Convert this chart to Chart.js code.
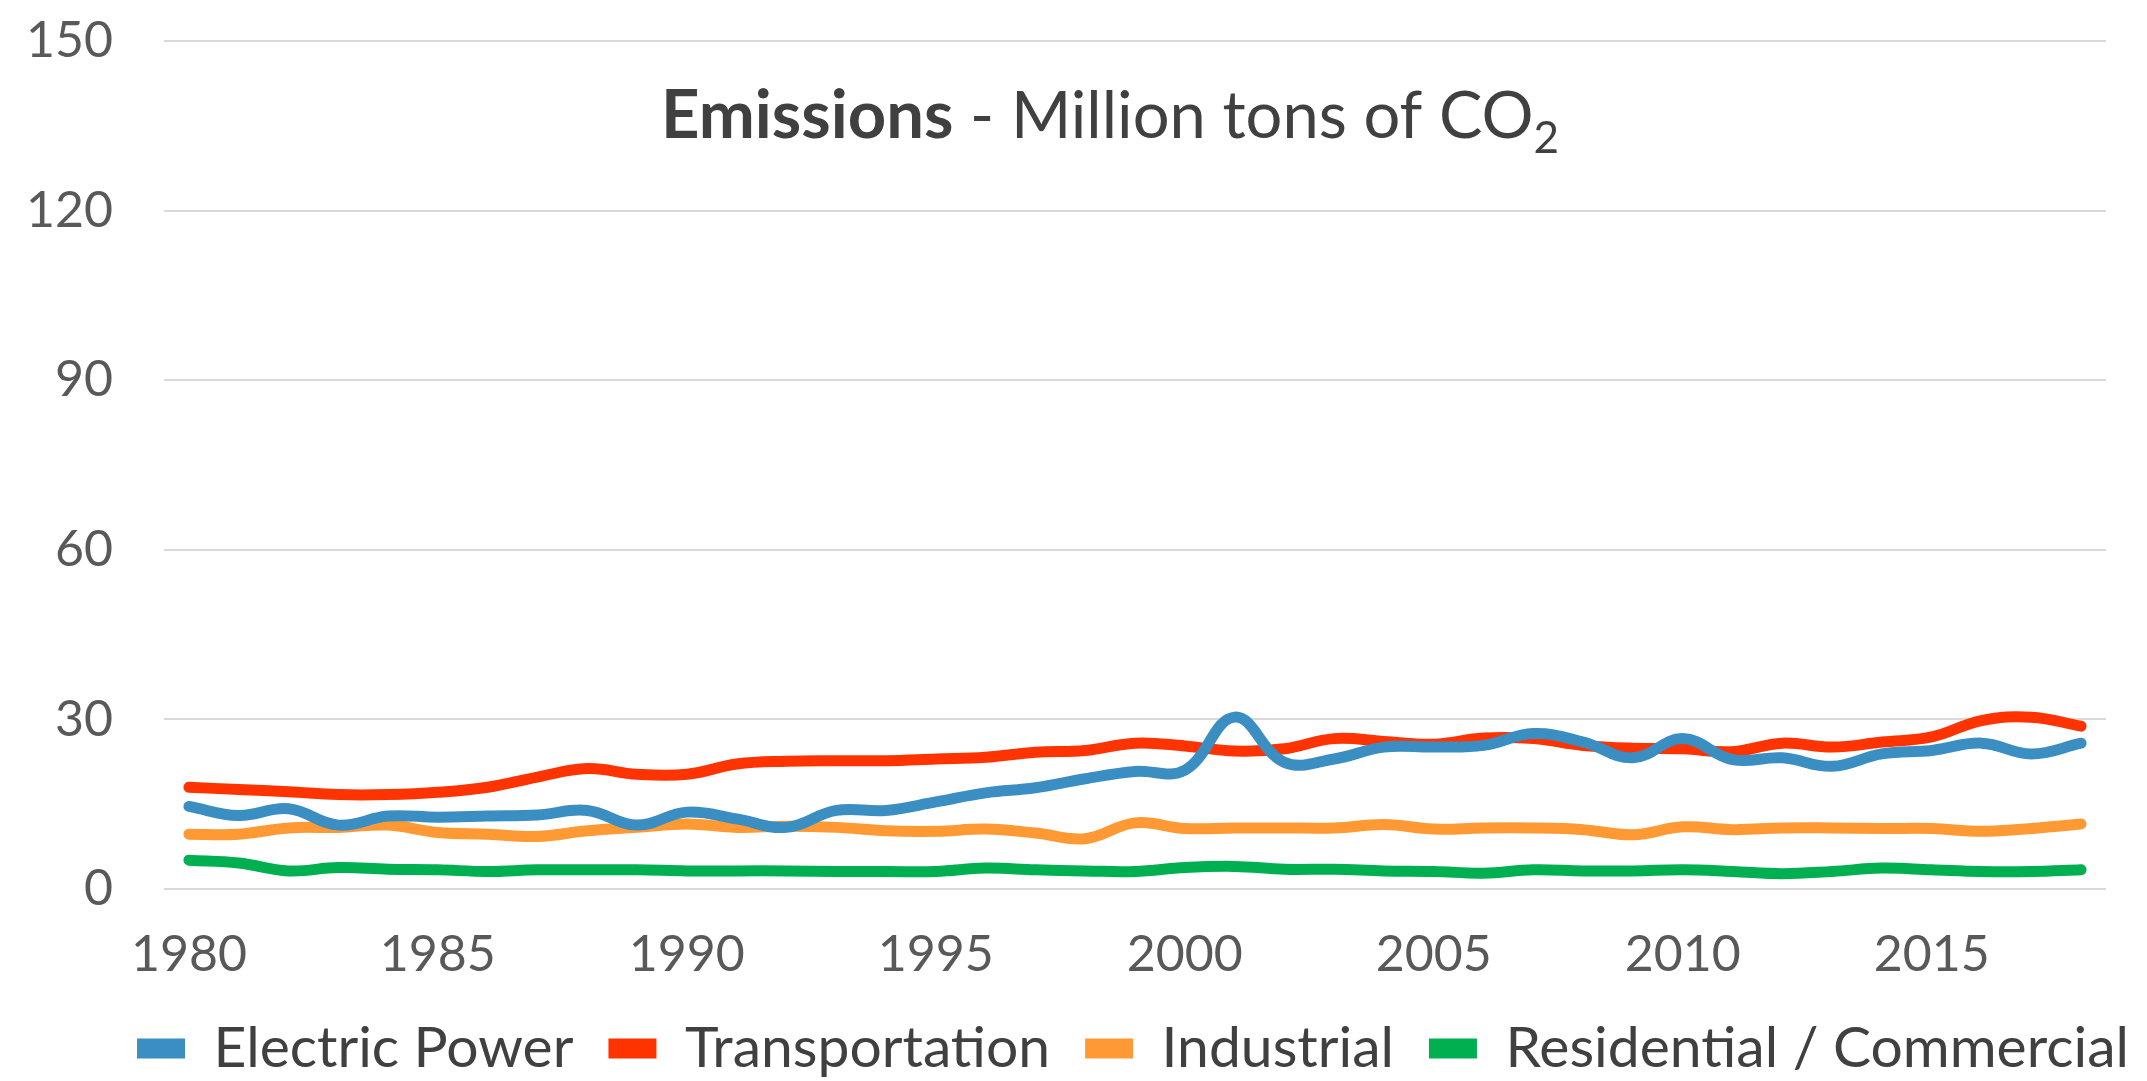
<!DOCTYPE html>
<html>
<head>
<meta charset="utf-8">
<script src="https://cdn.jsdelivr.net/npm/chart.js@4.4.1/dist/chart.umd.min.js"></script>
<style>
  html, body { margin: 0; padding: 0; background: #fff; }
  #wrap { width: 2147px; height: 1081px; }
</style>
</head>
<body>
<div id="wrap"><canvas id="emissionsChart"></canvas></div>
<script>
const years = [];
for (let y = 1980; y <= 2018; y++) years.push(String(y));

const electricPower = [14.6, 13.0, 14.2, 11.3, 12.9, 12.7, 12.9, 13.1, 13.9, 11.3,
    13.6, 12.4, 10.9, 13.9, 13.9, 15.4, 17.0, 17.9, 19.5, 20.8,
    21.0, 30.4, 22.4, 23.0, 25.1, 25.1, 25.4, 27.5, 26.0, 23.2,
    26.6, 22.9, 23.2, 21.7, 23.9, 24.5, 25.8, 23.9, 25.8];
const transportation = [18.0, 17.6, 17.2, 16.7, 16.7, 17.1, 18.0, 19.8, 21.3, 20.3,
    20.3, 22.1, 22.6, 22.7, 22.7, 23.0, 23.3, 24.2, 24.5, 25.8,
    25.3, 24.4, 24.8, 26.6, 26.1, 25.6, 26.7, 26.6, 25.4, 24.9,
    24.8, 24.3, 25.8, 25.1, 26.0, 26.9, 29.8, 30.4, 28.8];
const industrial = [9.7, 9.7, 10.8, 10.9, 11.3, 10.0, 9.7, 9.3, 10.3, 10.9,
    11.5, 10.9, 11.1, 10.9, 10.3, 10.2, 10.6, 9.9, 8.9, 11.7,
    10.7, 10.8, 10.8, 10.8, 11.4, 10.6, 10.8, 10.8, 10.5, 9.6,
    11.0, 10.5, 10.8, 10.8, 10.7, 10.7, 10.2, 10.7, 11.5];
const residentialCommercial = [5.1, 4.6, 3.2, 3.8, 3.5, 3.4, 3.1, 3.4, 3.4, 3.4,
    3.2, 3.2, 3.2, 3.1, 3.1, 3.1, 3.7, 3.4, 3.2, 3.1,
    3.8, 4.0, 3.5, 3.5, 3.2, 3.1, 2.8, 3.4, 3.2, 3.2,
    3.4, 3.1, 2.7, 3.1, 3.7, 3.4, 3.1, 3.1, 3.4];

const seriesNames = ['Electric Power', 'Transportation', 'Industrial', 'Residential / Commercial'];
const seriesColors = ['#3A8EC2', '#FF3300', '#FF9933', '#00B050'];
const seriesValues = [electricPower, transportation, industrial, residentialCommercial];

const FONT = 'Lato, "Open Sans", sans-serif';

// title drawn inside the plot, bold word + subscript 2
const titlePlugin = {
    id: 'emTitle',
    afterDraw(chart) {
        const ctx = chart.ctx;
        const parts = [
            { t: 'Emissions', f: 'bold 67px ' + FONT, dy: 0 },
            { t: ' - Million tons of CO', f: '65px ' + FONT, dy: 0 },
            { t: '2', f: '44px ' + FONT, dy: 15 }
        ];
        ctx.save();
        let total = 0;
        parts.forEach(p => { ctx.font = p.f; p.w = ctx.measureText(p.t).width; total += p.w; });
        let x = 1110 - total / 2;
        const base = 138;
        ctx.fillStyle = '#404040';
        ctx.textBaseline = 'alphabetic';
        parts.forEach(p => {
            ctx.font = p.f;
            ctx.fillText(p.t, x, base + p.dy);
            x += p.w;
        });
        ctx.restore();
    }
};

// legend sits a bit right of centre in the original
const legendShift = {
    id: 'legendShift',
    afterLayout(chart) {
        chart.legend.left += 80;
        chart.legend.right += 80;
    }
};

const data = {
    labels: years,
    datasets: seriesNames.map((name, i) => ({
        label: name,
        data: seriesValues[i],
        borderColor: seriesColors[i],
        backgroundColor: seriesColors[i],
        borderWidth: 11,
        borderCapStyle: 'round',
        borderJoinStyle: 'round',
        pointRadius: 0,
        tension: 0.4,
        fill: false
    }))
};

const config = {
    type: 'line',
    data: data,
    options: {
        responsive: true,
        maintainAspectRatio: false,
        animation: false,
        layout: { padding: { top: 41, right: 41, left: 0, bottom: -6 } },
        plugins: {
            legend: {
                position: 'bottom',
                labels: {
                    boxWidth: 48,
                    boxHeight: 20,
                    padding: 35,
                    color: '#404040',
                    font: { family: FONT, size: 57 },
                    generateLabels(chart) {
                        // flat boxes, no thick outline
                        return Chart.defaults.plugins.legend.labels.generateLabels(chart)
                            .map(item => Object.assign(item, { lineWidth: 0 }));
                    }
                }
            },
            tooltip: { enabled: false },
            title: { display: false }
        },
        scales: {
            x: {
                offset: true,
                afterFit(scale) { scale.height = 96; },
                grid: { display: false, drawTicks: false },
                border: { display: false },
                ticks: {
                    autoSkip: false,
                    maxRotation: 0,
                    padding: 36,
                    color: '#595959',
                    font: { family: FONT, size: 50 },
                    callback: function (val, idx) {
                        return idx % 5 === 0 ? this.getLabelForValue(val) : '';
                    }
                }
            },
            y: {
                min: 0,
                max: 150,
                afterFit(scale) {
                    scale.width = 164;
                    scale.paddingTop = 0;
                    scale.paddingBottom = 0;
                },
                grid: { color: '#D9D9D9', lineWidth: 2, drawTicks: false },
                border: { display: false },
                ticks: {
                    stepSize: 30,
                    padding: 51,
                    color: '#595959',
                    font: { family: FONT, size: 50 }
                }
            }
        }
    },
    plugins: [titlePlugin, legendShift]
};

const emissionsChart = new Chart(document.querySelector('#emissionsChart'), config);
</script>
</body>
</html>
